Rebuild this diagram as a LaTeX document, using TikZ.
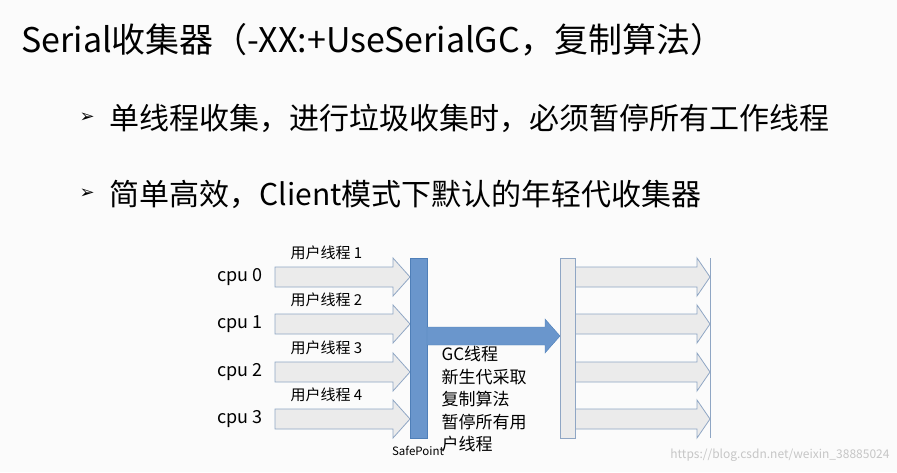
\documentclass[tikz,border=0pt]{standalone}
\usepackage{fontspec}
\setmainfont{Noto Sans CJK SC}
\newfontfamily\symfont{DejaVu Sans}
\usetikzlibrary{positioning}
\definecolor{gcblue}{HTML}{6A96CC}
\definecolor{gcedge}{HTML}{4F7FB8}
\definecolor{threadgray}{HTML}{EBEBEB}
\definecolor{threadedge}{HTML}{8FA6C4}
\definecolor{txtgray}{HTML}{333333}
\newcommand{\fatarrow}[4]{% x1, x2(head start), x3(tip), y
  \draw[threadedge, fill=threadgray, line width=0.8pt]
    (#1,#4-10) -- (#2,#4-10) -- (#2,#4-19) -- (#3,#4) -- (#2,#4+19) -- (#2,#4+10) -- (#1,#4+10) -- cycle;}
\begin{document}
\begin{tikzpicture}[x=1pt, y=-1pt, font=\color{txtgray}]
  \useasboundingbox[fill=white!97!gray] (0,0) rectangle (897,472);
  % heading and bullets
  \node[anchor=west, font=\fontsize{34}{38}\selectfont] (title) at (18,40) {Serial收集器（-XX:+UseSerialGC，复制算法）};
  \node[anchor=west, font=\symfont\fontsize{18}{20}\selectfont] (b1) at (76,118) {➢};
  \node[anchor=west, font=\fontsize{30}{34}\selectfont] (t1) at (106,118) {单线程收集，进行垃圾收集时，必须暂停所有工作线程};
  \node[anchor=west, font=\symfont\fontsize{18}{20}\selectfont] (b2) at (76,194) {➢};
  \node[anchor=west, font=\fontsize{30}{34}\selectfont] (t2) at (106,194) {简单高效，Client模式下默认的年轻代收集器};
  % user threads
  \foreach \y/\i in {277/0, 324/1, 372/2, 419/3} {
    \fatarrow{275}{393}{410}{\y}
    \node[anchor=east, font=\fontsize{18}{20}\selectfont] (cpu\i) at (266,\y) {cpu \i};
    \node[anchor=west, font=\fontsize{15}{17}\selectfont] (user\i) at (287,\y-24) {用户线程 \pgfmathparse{int(\i+1)}\pgfmathresult};
    \fatarrow{575}{697}{710}{\y}
  }
  \draw[threadedge, line width=0.8pt] (710,258) -- (710,438);
  % safepoint bar and GC arrow
  \draw[gcedge, fill=gcblue] (410,258) rectangle (427,438);
  \node[anchor=north, font=\fontsize{11.5}{13}\selectfont] (safe) at (418,443) {SafePoint};
  \draw[gcedge, fill=gcblue] (427,327) -- (545,327) -- (545,319) -- (560,336) -- (545,353) -- (545,345) -- (427,345) -- cycle;
  \draw[threadedge, fill=threadgray, line width=0.8pt] (560,258) rectangle (575,438);
  \node[anchor=north west, align=left, font=\fontsize{17}{22.5}\selectfont] (gc) at (438,343)
    {GC线程\\新生代采取\\复制算法\\暂停所有用\\户线程};
  \node[anchor=east, text=gray!45, font=\fontsize{12}{14}\selectfont] (url) at (893,455) {https://blog.csdn.net/weixin\_38885024};
\end{tikzpicture}
\end{document}
